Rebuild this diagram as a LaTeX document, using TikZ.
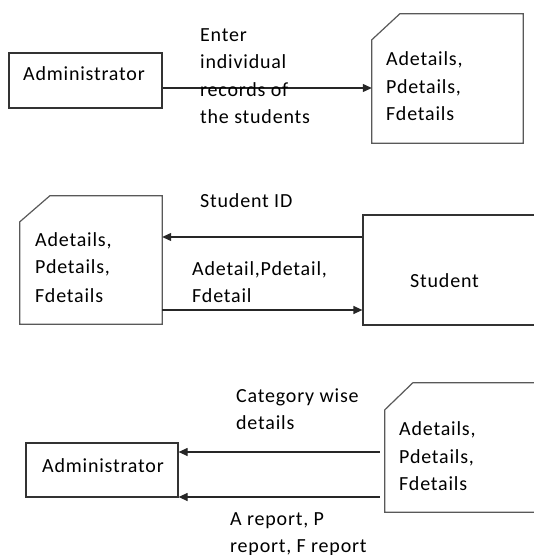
\documentclass[tikz,border=0pt]{standalone}
\usepackage{fontspec}
\setmainfont[LetterSpace=4]{Carlito}
\usetikzlibrary{arrows.meta,calc}
\begin{document}
\begin{tikzpicture}[x=1pt,y=-1pt,
  box/.style={draw=black!80, line width=1.2pt, rectangle, inner sep=0pt},
  ghost/.style={rectangle, inner sep=0pt},
  txt/.style={anchor=base west, inner sep=0pt, font=\fontsize{20}{27}\selectfont},
  flow/.style={draw=black!85, line width=1.2pt, -{Triangle[length=9pt,width=8pt]}},
  doc/.style={draw=black!65, line width=1.2pt, fill=white}]
\useasboundingbox (0,0) rectangle (534,555);
\clip (0,0) rectangle (534,555);

% ---------- top ----------
\node[box, minimum width=153pt, minimum height=55pt] (admin1) at (85.5,80.5) {};
\node[ghost, minimum width=151pt, minimum height=129pt] (doc1) at (447.5,78.5) {};
\draw[doc] (doc1.south west) -- ($(doc1.north west)+(0,26)$) -- ($(doc1.north west)+(28,0)$) -- (doc1.north east) -- (doc1.south east) -- cycle;
\node[txt] (t1a) at (23,80) {Administrator};
\node[txt] (t1b) at (386,65) {Adetails,};
\node[txt] (t1c) at (386,93) {Pdetails,};
\node[txt] (t1d) at (386,120) {Fdetails};
\coordinate (y1) at (0,88);
\draw[flow] (admin1.east |- y1) -- (doc1.west |- y1);
\node[txt] (l1a) at (200,41) {Enter};
\node[txt] (l1b) at (200,68.5) {individual};
\node[txt] (l1c) at (200,96) {records of};
\node[txt] (l1d) at (200,123.5) {the students};

% ---------- middle ----------
\node[ghost, minimum width=142pt, minimum height=128pt] (doc2) at (91,260) {};
\draw[doc] (doc2.south west) -- ($(doc2.north west)+(0,26)$) -- ($(doc2.north west)+(30,0)$) -- (doc2.north east) -- (doc2.south east) -- cycle;
\node[box, minimum width=182pt, minimum height=110pt] (student) at (454,270) {};
\node[txt] (t2a) at (35,246) {Adetails,};
\node[txt] (t2b) at (35,273) {Pdetails,};
\node[txt] (t2c) at (35,302) {Fdetails};
\node[txt] (t2d) at (410,287) {Student};
\coordinate (y2) at (0,237);
\coordinate (y3) at (0,310);
\draw[flow] (student.west |- y2) -- (doc2.east |- y2);
\draw[flow] (doc2.east |- y3) -- (student.west |- y3);
\node[txt] (l2a) at (200,207) {Student ID};
\node[txt] (l2b) at (192,275) {Adetail,Pdetail,};
\node[txt] (l2c) at (192,302) {Fdetail};

% ---------- bottom ----------
\node[box, minimum width=152pt, minimum height=54pt] (admin3) at (102,470) {};
\node[ghost, minimum width=160pt, minimum height=129pt] (doc3) at (465,447.5) {};
\draw[doc] (doc3.south west) -- ($(doc3.north west)+(0,27)$) -- ($(doc3.north west)+(28,0)$) -- (doc3.north east) -- (doc3.south east) -- cycle;
\node[txt] (t3a) at (42,472) {Administrator};
\node[txt] (t3b) at (399,435) {Adetails,};
\node[txt] (t3c) at (399,463) {Pdetails,};
\node[txt] (t3d) at (399,490) {Fdetails};
\coordinate (y4) at (0,452);
\coordinate (y5) at (0,497);
\draw[flow] ($(doc3.west |- y4)+(-5,0)$) -- (admin3.east |- y4);
\draw[flow] ($(doc3.west |- y5)+(-5,0)$) -- (admin3.east |- y5);
\node[txt] (l3a) at (236,402) {Category wise};
\node[txt] (l3b) at (236,429) {details};
\node[txt] (l3c) at (230,525) {A report, P};
\node[txt] (l3d) at (230,552) {report, F report};
\end{tikzpicture}
\end{document}
